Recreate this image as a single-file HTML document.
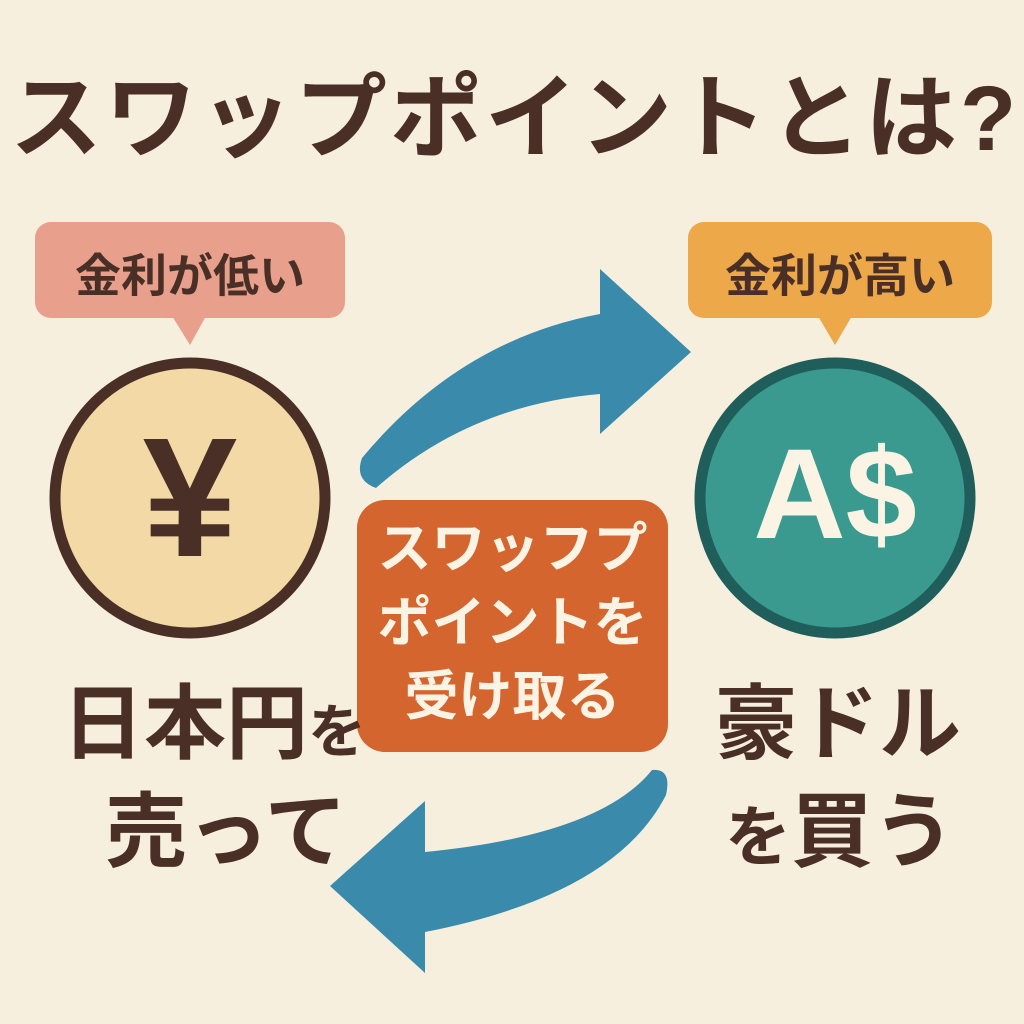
<!DOCTYPE html>
<html><head><meta charset="utf-8"><style>
body{margin:0;width:1024px;height:1024px;background:#f6efde;overflow:hidden;position:relative;font-family:"Liberation Sans","Noto Sans CJK JP",sans-serif;font-weight:bold;color:#4a2f27}
.a{position:absolute;white-space:nowrap}
</style></head><body>
<svg width="1024" height="1024" style="position:absolute;left:0;top:0">
<path d="M362,458 Q460,340 600,314 L600,269 L691,352 L600,434 L600,394 Q470,405 376,488 Q354,480 362,458 Z" fill="#3a8aab"/>
<path d="M652,770 Q600,835 425,852 L425,801 L330,886 L425,973 L425,932 Q615,895 666,795 Q672,768 652,770 Z" fill="#3a8aab"/>
<rect x="35" y="222" width="310" height="96" rx="16" fill="#e8a08c"/>
<path d="M172,316 L190,345 L206,316 Z" fill="#e8a08c"/>
<rect x="688" y="222" width="304" height="96" rx="16" fill="#eda84a"/>
<path d="M818,316 L835,345 L852,316 Z" fill="#eda84a"/>
<circle cx="190" cy="498" r="135" fill="#f2d9a6" stroke="#4a2f27" stroke-width="11"/>
<circle cx="835" cy="498" r="135" fill="#3a9a90" stroke="#1f5e5a" stroke-width="11"/>
<rect x="357" y="500" width="311" height="252" rx="28" fill="#d4652f"/>
</svg>
<div class="a" style="left:10px;top:44px;font-size:92px;letter-spacing:3px">スワップポイントとは?</div>
<div class="a" style="left:35px;top:240px;width:310px;text-align:center;font-size:46px">金利が低い</div>
<div class="a" style="left:688px;top:240px;width:304px;text-align:center;font-size:46px">金利が高い</div>
<div class="a" style="left:55px;top:400px;width:270px;text-align:center;font-size:170px;line-height:196px">¥</div>
<div class="a" style="left:700px;top:425px;width:270px;text-align:center;font-size:128px;line-height:140px;color:#fbf4e4">A$</div>
<div class="a" style="left:357px;top:512px;width:311px;text-align:center;font-size:54px;line-height:74px;color:#fbf4e4">スワッフプ<br>ポイントを<br>受け取る</div>
<div class="a" style="left:62px;top:657px;font-size:82px">日本円<span style="font-size:58px">を</span></div>
<div class="a" style="left:105px;top:765px;font-size:82px">売って</div>
<div class="a" style="left:715px;top:657px;font-size:82px">豪ドル</div>
<div class="a" style="left:725px;top:765px;font-size:82px"><span style="font-size:66px">を</span>買う</div>
</body></html>
